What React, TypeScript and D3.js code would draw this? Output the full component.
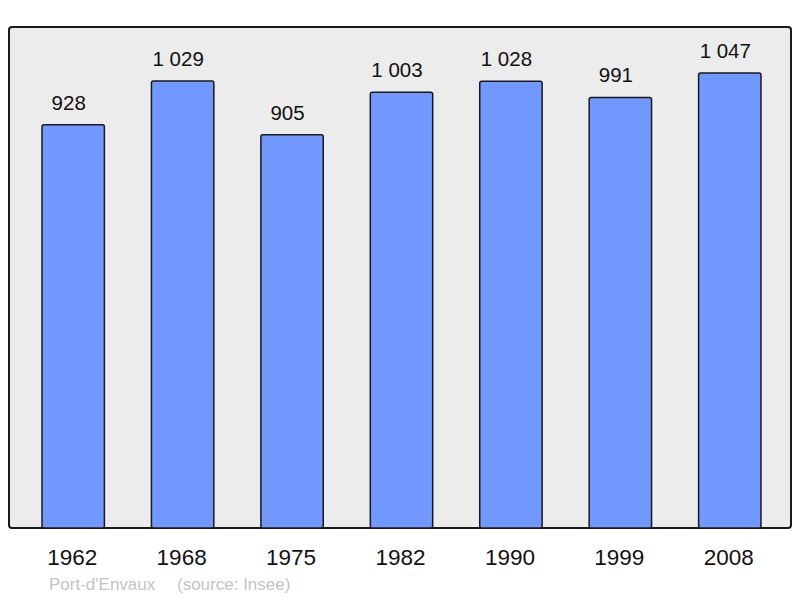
import React from "react";
import * as d3 from "d3";

const years = ["1962", "1968", "1975", "1982", "1990", "1999", "2008"];
const population = [928, 1029, 905, 1003, 1028, 991, 1047];
const townName = "Port-d'Envaux";
const sourceNote = "(source: Insee)";

const width = 800;
const height = 598;
const frame = { left: 9, top: 27, right: 791, bottom: 528 };

const fmt = (v: number) => {
  const s = String(v);
  return s.length > 3 ? s.slice(0, s.length - 3) + " " + s.slice(-3) : s;
};

export default function App() {
  const x = d3
    .scaleBand()
    .domain(years)
    .range([18.5, 784.5])
    .paddingInner(0.43)
    .paddingOuter(0.215);

  const y = d3.scaleLinear().domain([0, 1153]).range([frame.bottom, frame.top]);

  return (
    <svg
      width={width}
      height={height}
      style={{ position: "absolute", left: 0, top: 0 }}
      fontFamily="Liberation Sans, Arial, sans-serif"
    >
      <rect
        x={frame.left}
        y={frame.top}
        width={frame.right - frame.left}
        height={frame.bottom - frame.top}
        rx={3}
        fill="#ececec"
        stroke="#1a1a1a"
        strokeWidth={2}
      />
      {years.map((yr, i) => (
        <g key={yr}>
          <rect
            x={x(yr)}
            y={y(population[i])}
            width={x.bandwidth()}
            height={frame.bottom - y(population[i])}
            rx={2}
            fill="#7098ff"
            stroke="#1a1a1a"
            strokeWidth={1.5}
          />
          <text
            x={(x(yr) as number) + x.bandwidth() / 2 - 4.5}
            y={y(population[i]) - 15}
            textAnchor="middle"
            fontSize={20.5}
            fill="#111"
          >
            {fmt(population[i])}
          </text>
          <text
            x={(x(yr) as number) + x.bandwidth() / 2 - 1}
            y={565}
            textAnchor="middle"
            fontSize={22.5}
            fill="#111"
          >
            {yr}
          </text>
        </g>
      ))}
      <text x={49} y={590} fontSize={17} fill="#c4c4c4">
        <tspan>{townName}</tspan>
        <tspan x={177}>{sourceNote}</tspan>
      </text>
    </svg>
  );
}
